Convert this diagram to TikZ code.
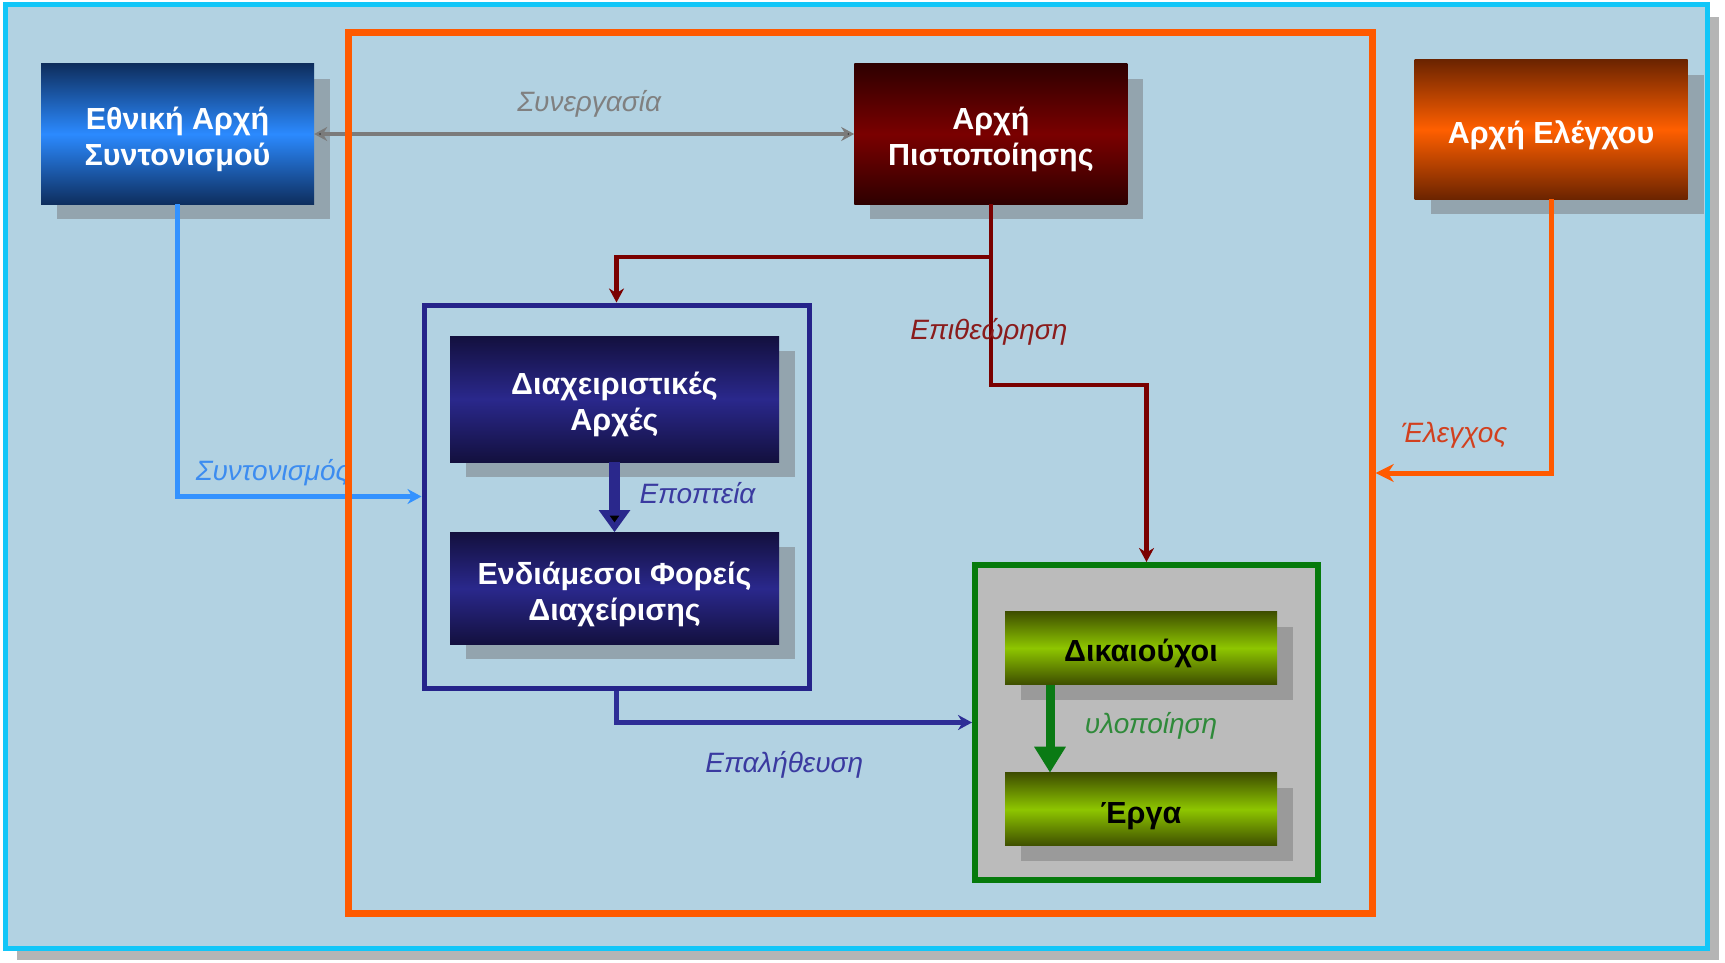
\documentclass[tikz,border=0pt]{standalone}
\usepackage{fontspec}
\setmainfont{Liberation Sans}
\usetikzlibrary{positioning}
\usetikzlibrary{arrows.meta}
\usetikzlibrary{shadows}

\definecolor{panelFill}{HTML}{B2D2E2}
\definecolor{panelEdge}{HTML}{12C6F8}
\definecolor{panelShadow}{HTML}{B5B5B5}
\definecolor{boxShadow}{HTML}{93A4AE}
\definecolor{projectShadow}{HTML}{9A9A9A}
\definecolor{orangeLine}{HTML}{FF5A00}
\definecolor{navyDark}{HTML}{0E2E5E}
\definecolor{navyLight}{HTML}{2B8AFF}
\definecolor{wineDark}{HTML}{2E0000}
\definecolor{wineLight}{HTML}{7A0000}
\definecolor{rustDark}{HTML}{6C2400}
\definecolor{rustLight}{HTML}{FF5F00}
\definecolor{indigoDark}{HTML}{13103E}
\definecolor{indigoLight}{HTML}{2A288C}
\definecolor{oliveDark}{HTML}{3E4E00}
\definecolor{oliveLight}{HTML}{8EC600}
\definecolor{groupBlue}{HTML}{25238A}
\definecolor{groupGreen}{HTML}{067A0C}
\definecolor{groupGray}{HTML}{BBBBBB}
\definecolor{linkGrey}{HTML}{7B7B7B}
\definecolor{linkSky}{HTML}{3392FF}
\definecolor{linkWine}{HTML}{7A0000}
\definecolor{linkIndigo}{HTML}{2E2E96}
\definecolor{linkGreen}{HTML}{0A7A14}
\definecolor{labelGrey}{HTML}{808080}
\definecolor{labelSky}{HTML}{3C8CF0}
\definecolor{labelWine}{HTML}{8A1C1C}
\definecolor{labelIndigo}{HTML}{3A3AA0}
\definecolor{labelGreen}{HTML}{2F8A3A}
\definecolor{labelRust}{HTML}{D2401E}

\newcommand{\boxLift}{\rule{0pt}{34pt}}

\begin{document}
\begin{tikzpicture}[x=1pt, y=-1pt, node distance=70pt,
    panel/.style={draw=panelEdge, line width=5pt, fill=panelFill, inner sep=0pt, minimum width=1702pt, minimum height=943pt,
      drop shadow={shadow xshift=12pt, shadow yshift=-12pt, fill=panelShadow, opacity=1}},
    plainBox/.style={shape=rectangle, inner sep=0pt, minimum width=273pt, minimum height=140pt, align=center, text=white,
      font=\bfseries\fontsize{30.5}{36}\selectfont},
    blueShadow/.style={drop shadow={shadow xshift=16pt, shadow yshift=-15pt, fill=boxShadow, opacity=1}},
    greyShadow/.style={drop shadow={shadow xshift=16pt, shadow yshift=-15pt, fill=projectShadow, opacity=1}},
    manager/.style={plainBox, blueShadow, minimum width=329pt, top color=indigoDark, bottom color=indigoDark, middle color=indigoLight},
    project/.style={plainBox, greyShadow, minimum width=272pt, minimum height=73pt, text=black, top color=oliveDark, bottom color=oliveDark, middle color=oliveLight},
    groupFrame/.style={shape=rectangle, line width=5pt, inner sep=0pt},
    orangeFrame/.style={draw=orangeLine, line width=7pt},
    linkLabel/.style={font=\itshape\fontsize{28}{32}\selectfont, inner sep=2pt, anchor=base},
    greyLink/.style={draw=linkGrey, line width=4pt, {Stealth[length=13pt,width=14pt]}-{Stealth[length=13pt,width=14pt]}},
    coordLink/.style={draw=linkSky, line width=4.5pt, -{Stealth[length=14pt,width=15pt]}},
    inspectLink/.style={draw=linkWine, line width=4.5pt, -{Stealth[length=14pt,width=15pt]}},
    verifyLink/.style={draw=linkIndigo, line width=4.5pt, -{Stealth[length=14pt,width=15pt]}},
    controlLink/.style={draw=orangeLine, line width=5pt, -{Stealth[length=18pt,width=18pt]}, shorten >=3.5pt},
    superviseArrow/.style={draw=indigoLight, line width=11pt, -{Triangle[length=22pt,width=30pt]}},
    buildArrow/.style={draw=linkGreen, line width=9pt, -{Triangle[length=26pt,width=30pt]}},
  ]
    \useasboundingbox (0,0) rectangle (1725,963);

    \node[panel] (panel) at (856,476.5) {};
    \node[shape=rectangle, inner sep=0pt, minimum width=1023pt, minimum height=880pt] (eframe) at (860.5,473) {};

    \node[plainBox, blueShadow, top color=navyDark, bottom color=navyDark, middle color=navyLight] (ethniki) at (177.5,134) {\boxLift Εθνική Αρχή\\Συντονισμού};
    \node[plainBox, blueShadow, top color=wineDark, bottom color=wineDark, middle color=wineLight, right=540pt of ethniki] (pistop) {\boxLift Αρχή\\Πιστοποίησης};
    \node[plainBox, blueShadow, minimum height=139pt, top color=rustDark, bottom color=rustDark, middle color=rustLight] (elegxou) at (1551,129.5) {\boxLift Αρχή Ελέγχου};

    \node[groupFrame, draw=groupBlue, minimum width=385pt, minimum height=383pt] (mgroup) at (616.5,496.5) {};
    \node[manager, minimum height=126pt] (diax) at (614.5,399) {\boxLift Διαχειριστικές\\Αρχές};
    \node[manager, minimum height=112pt, below=of diax] (endiam) {\boxLift Ενδιάμεσοι Φορείς\\Διαχείρισης};

    \node[groupFrame, line width=6pt, draw=groupGreen, fill=groupGray, minimum width=343pt, minimum height=315pt] (bgroup) at (1146.5,722.5) {};
    \node[project] (dikaiouxoi) at (1141,648) {\boxLift Δικαιούχοι};
    \node[project, below=88pt of dikaiouxoi] (erga) {\boxLift Έργα};

    \path[greyLink] (ethniki) edge node[linkLabel, text=labelGrey, xshift=5pt, yshift=22pt] {Συνεργασία} (pistop);
    \path[superviseArrow] (diax) edge node[linkLabel, text=labelIndigo, xshift=83pt, yshift=-6pt] {Εποπτεία} (endiam);
    \draw[buildArrow] ([xshift=-91pt]dikaiouxoi.south) -- node[linkLabel, text=labelGreen, xshift=101pt, yshift=-5pt] {υλοποίηση} ([xshift=-91pt]erga.north);

    \draw[inspectLink] (pistop.south) -- ++(0,53) -| (mgroup.north);
    \draw[inspectLink] (pistop.south) -- node[linkLabel, pos=0.746, text=labelWine, xshift=-2pt] {Επιθεώρηση} ++(0,181) -| (bgroup.north);
    \draw[coordLink] (ethniki.south) |- node[linkLabel, pos=0.5, anchor=base west, text=labelSky, xshift=14pt, yshift=16pt] {Συντονισμός} (mgroup.west);
    \draw[verifyLink] (mgroup.south) |- node[linkLabel, pos=0.736, text=labelIndigo, yshift=-50pt] {Επαλήθευση} (bgroup.west);
    \draw[controlLink] (elegxou.south) |- node[linkLabel, pos=0.771, text=labelRust, yshift=31pt] {Έλεγχος} (eframe.east);

    \draw[orangeFrame] (eframe.north west) rectangle (eframe.south east);
  \end{tikzpicture}
\end{document}
